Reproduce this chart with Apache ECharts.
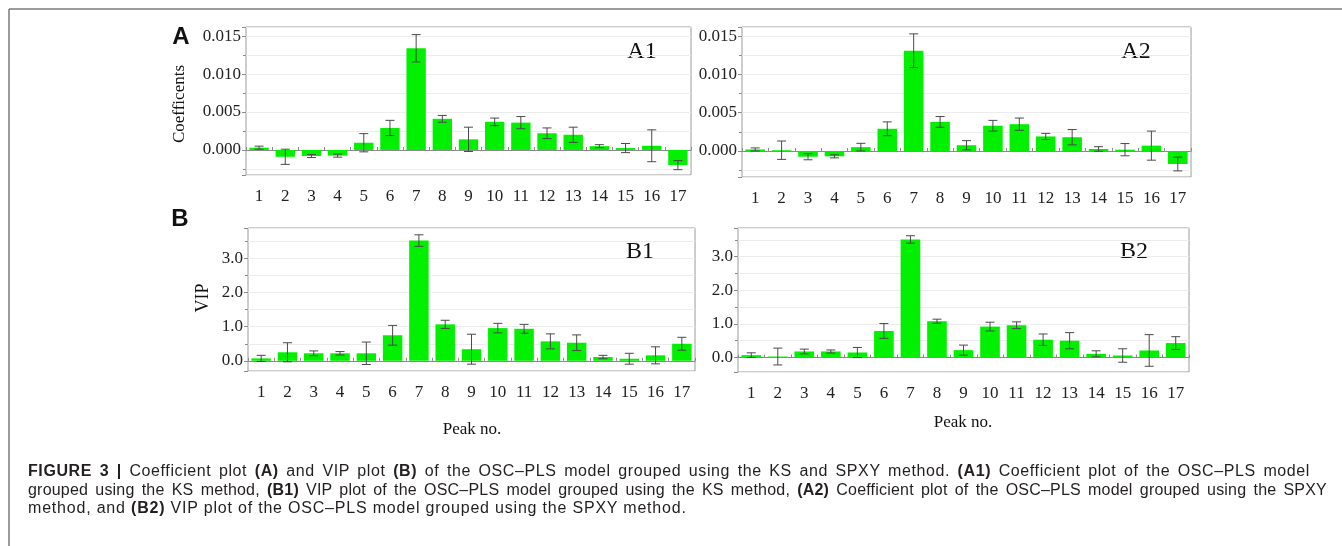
<!DOCTYPE html>
<html>
<head>
<meta charset="utf-8">
<script src="https://cdn.jsdelivr.net/npm/echarts@6/dist/echarts.min.js"></script>
<style>
  html, body { margin: 0; padding: 0; background: #fff; }
  #chart { position: absolute; left: 0; top: 0; width: 1342px; height: 546px; }
  #caption { position: absolute; left: 28px; top: 462px; font-family: 'Liberation Sans', Arial, sans-serif;
    font-size: 16px; line-height: 18.5px; color: #231f20; }
  #caption div { white-space: nowrap; }
  #caption .j { text-align: justify; text-align-last: justify; }
  #caption b { font-weight: bold; }
</style>
</head>
<body>
<div id="chart"></div>
<div id="caption">
  <div class="j" style="width:1282px;letter-spacing:0.6px"><b>FIGURE 3 |</b> Coefficient plot <b>(A)</b> and VIP plot <b>(B)</b> of the OSC–PLS model grouped using the KS and SPXY method. <b>(A1)</b> Coefficient plot of the OSC–PLS model</div>
  <div class="j" style="width:1299px;letter-spacing:0.2px">grouped using the KS method, <b>(B1)</b> VIP plot of the OSC–PLS model grouped using the KS method, <b>(A2)</b> Coefficient plot of the OSC–PLS model grouped using the SPXY</div>
  <div style="letter-spacing:0.8px">method, and <b>(B2)</b> VIP plot of the OSC–PLS model grouped using the SPXY method.</div>
</div>
<script>
const peaks = ['1', '2', '3', '4', '5', '6', '7', '8', '9', '10', '11', '12', '13', '14', '15', '16', '17']

// coefficients, KS grouping (A1) and SPXY grouping (A2)
const coefKS = [0.0003, -0.0009, -0.0008, -0.00075, 0.00095, 0.0029, 0.0134, 0.0041, 0.0014, 0.0037, 0.0036, 0.0022, 0.002, 0.0005, 0.00025, 0.00055, -0.002]
const coefKSErr = [0.0002, 0.001, 0.0002, 0.0002, 0.0012, 0.001, 0.0018, 0.00045, 0.0016, 0.0005, 0.0008, 0.0007, 0.001, 0.0002, 0.0006, 0.0021, 0.0006]
const coefSPXY = [0.0002, 0.0001, -0.00075, -0.0007, 0.0005, 0.0029, 0.0131, 0.0038, 0.00075, 0.0033, 0.0035, 0.0019, 0.0018, 0.00026, 0.00017, 0.0007, -0.0017]
const coefSPXYErr = [0.0002, 0.0012, 0.0004, 0.0002, 0.0005, 0.0009, 0.0022, 0.0007, 0.0006, 0.0007, 0.0008, 0.0004, 0.001, 0.0003, 0.0008, 0.0019, 0.0009]

// VIP, KS grouping (B1) and SPXY grouping (B2)
const vipKS = [0.07, 0.25, 0.22, 0.22, 0.22, 0.75, 3.53, 1.07, 0.34, 0.96, 0.94, 0.57, 0.53, 0.11, 0.06, 0.16, 0.5]
const vipKSErr = [0.09, 0.28, 0.07, 0.05, 0.33, 0.29, 0.17, 0.12, 0.44, 0.14, 0.13, 0.22, 0.23, 0.05, 0.16, 0.25, 0.19]
const vipSPXY = [0.07, 0.03, 0.18, 0.18, 0.15, 0.79, 3.51, 1.08, 0.22, 0.92, 0.96, 0.53, 0.5, 0.11, 0.06, 0.21, 0.43]
const vipSPXYErr = [0.07, 0.25, 0.07, 0.045, 0.15, 0.22, 0.11, 0.06, 0.15, 0.13, 0.1, 0.17, 0.24, 0.09, 0.2, 0.47, 0.19]

const panels = [
  { vals: coefKS, errs: coefKSErr, min: -0.0033, max: 0.0162, digits: 3, grid: { left: 246, top: 27, width: 445, height: 148 } },
  { vals: coefSPXY, errs: coefSPXYErr, min: -0.0034, max: 0.0162, digits: 3, grid: { left: 742, top: 27, width: 449, height: 150 } },
  { vals: vipKS, errs: vipKSErr, min: -0.3, max: 3.9, digits: 1, grid: { left: 248, top: 228, width: 447, height: 143 } },
  { vals: vipSPXY, errs: vipSPXYErr, min: -0.43, max: 3.85, digits: 1, grid: { left: 738, top: 228, width: 451, height: 144 } }
]

const serif = 'Liberation Serif'
const green = '#00f000'
const gridLine = '#ececec'

const grid = []
const xAxis = []
const yAxis = []
const series = []

panels.forEach((p, i) => {
  grid.push(Object.assign({ show: true, borderColor: '#9a9a9a', borderWidth: 1, backgroundColor: '#fff' }, p.grid))
  // labelled category axis at the bottom of the frame
  xAxis.push({
    type: 'category', gridIndex: i, data: peaks, position: 'bottom',
    axisLine: { show: false, onZero: false },
    axisTick: { show: false },
    axisLabel: { fontFamily: serif, fontSize: 17, color: '#222', margin: 13 }
  })
  // zero line with small ticks
  xAxis.push({
    type: 'category', gridIndex: i, data: peaks,
    axisLine: { show: true, onZero: true, lineStyle: { color: '#8a8a8a', width: 1 } },
    axisTick: { show: true, length: 3, lineStyle: { color: '#8a8a8a' } },
    axisLabel: { show: false },
    splitLine: { show: false }
  })
  yAxis.push({
    type: 'value', gridIndex: i, min: p.min, max: p.max, splitNumber: 4,
    axisLine: { show: false },
    axisTick: { show: true, length: 4, lineStyle: { color: '#8a8a8a' } },
    minorTick: { show: true, splitNumber: 2, length: 3, lineStyle: { color: '#8a8a8a' } },
    splitLine: { show: true, lineStyle: { color: gridLine } },
    minorSplitLine: { show: true, lineStyle: { color: gridLine } },
    axisLabel: {
      fontFamily: serif, fontSize: 17, color: '#222', margin: 5,
      showMinLabel: false, showMaxLabel: false,
      formatter: (v) => v.toFixed(p.digits)
    }
  })
  series.push({
    type: 'bar', xAxisIndex: i * 2, yAxisIndex: i, data: p.vals,
    barWidth: '74%', itemStyle: { color: green }, z: 2
  })
  series.push({
    type: 'custom', xAxisIndex: i * 2, yAxisIndex: i, z: 5,
    data: p.vals.map((v, k) => [k, v - p.errs[k], v + p.errs[k]]),
    renderItem: (params, api) => {
      const k = api.value(0)
      const lo = api.coord([k, api.value(1)])
      const hi = api.coord([k, api.value(2)])
      const w = 4.5
      const style = { stroke: '#4a4a4a', lineWidth: 1 }
      return {
        type: 'group',
        children: [
          { type: 'line', shape: { x1: hi[0], y1: hi[1], x2: lo[0], y2: lo[1] }, style },
          { type: 'line', shape: { x1: hi[0] - w, y1: hi[1], x2: hi[0] + w, y2: hi[1] }, style },
          { type: 'line', shape: { x1: lo[0] - w, y1: lo[1], x2: lo[0] + w, y2: lo[1] }, style }
        ]
      }
    }
  })
})

const txt = (x, y, text, font, extra) => ({
  type: 'text', x, y,
  style: Object.assign({ text, font, fill: '#111', align: 'center', verticalAlign: 'middle' }, extra || {})
})

const graphic = [
  { type: 'line', shape: { x1: 9, y1: 9, x2: 1342, y2: 9 }, style: { stroke: '#7a7a7a', lineWidth: 1.5 } },
  { type: 'line', shape: { x1: 9, y1: 9, x2: 9, y2: 546 }, style: { stroke: '#7a7a7a', lineWidth: 1.5 } },
  txt(181, 37, 'A', 'bold 24px "Liberation Sans"'),
  txt(180, 219, 'B', 'bold 24px "Liberation Sans"'),
  txt(642, 52, 'A1', '24px "Liberation Serif"'),
  txt(1136, 52, 'A2', '24px "Liberation Serif"'),
  txt(640, 252, 'B1', '24px "Liberation Serif"'),
  txt(1134, 252, 'B2', '24px "Liberation Serif"'),
  Object.assign(txt(0, 0, 'Coefficents', '17px "Liberation Serif"'), { x: 180, y: 104, rotation: Math.PI / 2 }),
  Object.assign(txt(0, 0, 'VIP', '18px "Liberation Serif"'), { x: 203, y: 298, rotation: Math.PI / 2 }),
  txt(472, 430, 'Peak no.', '17px "Liberation Serif"'),
  txt(963, 423, 'Peak no.', '17px "Liberation Serif"')
]

const chart = echarts.init(document.getElementById('chart'))
chart.setOption({
  animation: false,
  backgroundColor: '#fff',
  grid, xAxis, yAxis, series, graphic
})
</script>
</body>
</html>
